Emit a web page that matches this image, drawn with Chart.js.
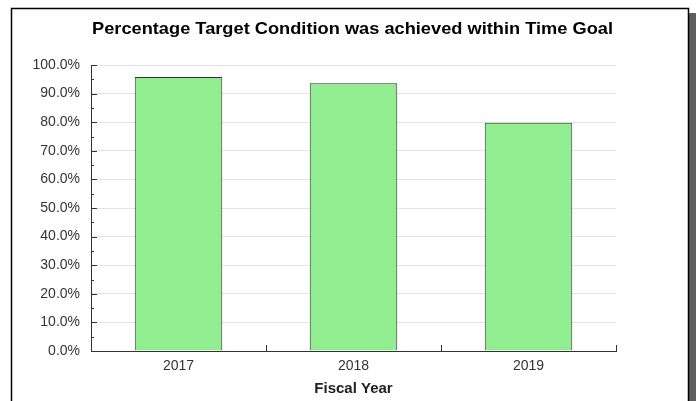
<!DOCTYPE html>
<html>
<head>
<meta charset="utf-8">
<script src="https://cdn.jsdelivr.net/npm/chart.js@4/dist/chart.umd.min.js"></script>
<style>
  html, body { margin: 0; padding: 0; background: #fff; }
  #c { display: block; }
</style>
</head>
<body>
<canvas id="c" width="698" height="401"></canvas>
<script>
const categories = ['2017', '2018', '2019'];
const percentAchieved = [95.8, 93.6, 79.8];
const yTickStep = 10;
const yMinorStep = 5;
const chartTitle = 'Percentage Target Condition was achieved within Time Goal';
const xAxisTitle = 'Fiscal Year';

const FONT = "'Liberation Sans', Arial, sans-serif";

const framePlugin = {
  id: 'frame',
  beforeDraw(chart) {
    const ctx = chart.ctx;
    ctx.save();
    ctx.fillStyle = '#ffffff';
    ctx.fillRect(0, 0, chart.width, chart.height);
    ctx.fillStyle = '#5e5e5e';
    ctx.fillRect(689, 13, 7, chart.height - 13);
    ctx.fillStyle = '#ffffff';
    ctx.fillRect(11, 8, 677, chart.height);
    ctx.strokeStyle = '#000000';
    ctx.lineWidth = 1.5;
    ctx.beginPath();
    ctx.moveTo(11.5, chart.height + 2);
    ctx.lineTo(11.5, 8.5);
    ctx.lineTo(688.5, 8.5);
    ctx.lineTo(688.5, chart.height + 2);
    ctx.stroke();
    ctx.restore();
  }
};

// Chart title drawn slightly widened, like the original's rendering
const titlePlugin = {
  id: 'wideTitle',
  afterDraw(chart, args, opts) {
    const ctx = chart.ctx;
    ctx.save();
    ctx.font = 'bold 16.5px ' + FONT;
    ctx.fillStyle = '#000000';
    ctx.textBaseline = 'alphabetic';
    ctx.textAlign = 'center';
    const w0 = ctx.measureText(opts.text).width;
    const sx = opts.width / w0;
    ctx.translate(opts.center, opts.baseline);
    ctx.scale(sx, 1);
    ctx.fillText(opts.text, 0, 0);
    ctx.restore();
  }
};

const inwardTicksPlugin = {
  id: 'inwardTicks',
  afterDraw(chart) {
    const ctx = chart.ctx;
    const y = chart.scales.y, x = chart.scales.x;
    const area = chart.chartArea;
    ctx.save();
    ctx.strokeStyle = '#333333';
    ctx.lineWidth = 1;
    ctx.beginPath();
    for (let v = y.min; v <= y.max + 1e-9; v += yMinorStep) {
      const py = Math.round(y.getPixelForValue(v)) + 0.5;
      const major = Math.abs(v / yTickStep - Math.round(v / yTickStep)) < 1e-6;
      const len = major ? 6 : 3;
      ctx.moveTo(area.left, py);
      ctx.lineTo(area.left + len, py);
    }
    const n = categories.length;
    for (let i = 0; i <= n; i++) {
      const px = Math.round(x.getPixelForValue(i - 0.5)) + 0.5;
      ctx.moveTo(px, area.bottom);
      ctx.lineTo(px, area.bottom - 6);
    }
    ctx.stroke();
    ctx.restore();
  }
};

new Chart(document.getElementById('c'), {
  type: 'bar',
  data: {
    labels: categories,
    datasets: [{
      data: percentAchieved,
      backgroundColor: '#90ee90',
      borderColor: '#333333',
      borderWidth: 1,
      barPercentage: 0.5,
      categoryPercentage: 1.0
    }]
  },
  options: {
    responsive: false,
    animation: false,
    devicePixelRatio: 1,
    layout: { padding: { left: 0, right: 82, top: 65, bottom: 0 } },
    plugins: {
      legend: { display: false },
      tooltip: { enabled: false },
      title: { display: false },
      wideTitle: { text: chartTitle, width: 521, center: 352.5, baseline: 34 }
    },
    scales: {
      y: {
        min: 0,
        max: 100,
        ticks: {
          stepSize: yTickStep,
          color: '#333333',
          font: { family: FONT, size: 14 },
          padding: 11,
          callback: v => Number(v).toFixed(1) + '%'
        },
        grid: { color: '#e3e3e3', lineWidth: 1, drawTicks: false },
        border: { display: true, color: '#333333', width: 1 },
        afterFit(scale) { scale.width = 91; }
      },
      x: {
        offset: true,
        ticks: {
          color: '#333333',
          font: { family: FONT, size: 14 },
          padding: 7
        },
        grid: { display: false, drawTicks: false },
        border: { display: true, color: '#333333', width: 1 },
        title: {
          display: true,
          text: xAxisTitle,
          color: '#222222',
          font: { family: FONT, size: 15, weight: 'bold' },
          padding: { top: 4, bottom: 3 }
        },
        afterFit(scale) { scale.height = 50; }
      }
    }
  },
  plugins: [framePlugin, inwardTicksPlugin, titlePlugin]
});
</script>
</body>
</html>
